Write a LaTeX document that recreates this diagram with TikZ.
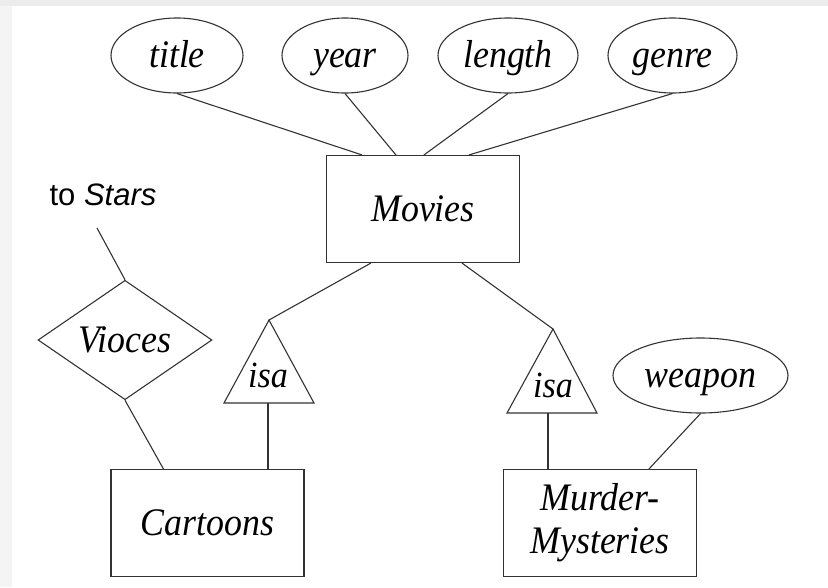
\documentclass[tikz,border=0pt]{standalone}
\usepackage{fontspec}
\setmainfont{Liberation Serif}
\newfontfamily\tallserif[FakeStretch=0.92]{Liberation Serif}
\newfontfamily\labelsans{Liberation Sans}
\usetikzlibrary{shapes.geometric}
\begin{document}
\begin{tikzpicture}[x=1pt,y=-1pt,
  erline/.style={draw=black!80, line width=1.1pt},
  entity/.style={erline, rectangle, inner sep=0pt, minimum width=193pt, minimum height=107pt,
    font=\tallserif\fontsize{39}{43}\selectfont\itshape, align=center},
  attr/.style={erline, ellipse, inner sep=0pt, minimum height=75pt, text height=28pt, text depth=5pt,
    font=\tallserif\fontsize{39}{42}\selectfont\itshape},
  rel/.style={erline, diamond, inner sep=0pt, minimum width=174pt, minimum height=106pt,
    font=\tallserif\fontsize{39}{42}\selectfont\itshape},
  isalabel/.style={anchor=base, inner sep=0pt, font=\tallserif\fontsize{37}{40}\selectfont\itshape}]

% page background with its grey top and left strips
\fill[white] (0,0) rectangle (828,587);
\fill[gray!15] (0,0) rectangle (828,6);
\fill[gray!9] (0,6) rectangle (12,587);
\useasboundingbox (0,0) rectangle (828,587);

% entity sets
\node[entity] (movies)   at (423,209)   {Movies};
\node[entity] (cartoons) at (207.5,523) {Cartoons};
\node[entity] (murder)   at (600,523)   {Murder-\\Mysteries};

% attributes
\node[attr, minimum width=132pt] (title)  at (177,55.5) {title};
\node[attr, minimum width=126pt] (year)   at (345,55.5) {year};
\node[attr, minimum width=140pt] (length) at (508,55.5) {length};
\node[attr, minimum width=129pt] (genre)  at (672.5,55.5) {genre};
\node[attr, minimum width=175pt] (weapon) at (700.5,375.5) {weapon};

% relationship
\node[rel] (voices) at (125,340) {Vioces};
\node[anchor=base, inner sep=0pt, font=\labelsans\fontsize{31}{36}\selectfont] (stars) at (103,205) {to \textit{Stars}};
\coordinate (starsend) at (97,228);

% isa triangles
\coordinate (isaLtop)   at (269,320);
\coordinate (isaLleft)  at (224,403);
\coordinate (isaLright) at (314,403);
\coordinate (isaLbase)  at (268,403);
\draw[erline, line join=miter] (isaLtop) -- (isaLleft) -- (isaLright) -- cycle;
\node[isalabel] (isaL) at (268,387) {isa};

\coordinate (isaRtop)   at (553,329);
\coordinate (isaRleft)  at (507,413);
\coordinate (isaRright) at (597,413);
\coordinate (isaRbase)  at (548,413);
\draw[erline, line join=miter] (isaRtop) -- (isaRleft) -- (isaRright) -- cycle;
\node[isalabel] (isaR) at (553,397) {isa};

% connectors
\draw[erline] (title.south)  -- ([xshift=36pt]movies.north west);
\draw[erline] (year.south)   -- ([xshift=70pt]movies.north west);
\draw[erline] (length.south) -- ([xshift=98pt]movies.north west);
\draw[erline] (genre.south)  -- ([xshift=143pt]movies.north west);
\draw[erline] ([xshift=45pt]movies.south west)  -- (isaLtop);
\draw[erline] ([xshift=136pt]movies.south west) -- (isaRtop);
\draw[erline] (isaLbase) -- (isaLbase |- cartoons.north);
\draw[erline] (isaRbase) -- (isaRbase |- murder.north);
\draw[erline] (starsend) -- (voices.north);
\draw[erline] (voices.south) -- ([xshift=53pt]cartoons.north west);
\draw[erline] (weapon.south) -- ([xshift=146pt]murder.north west);
\end{tikzpicture}
\end{document}
